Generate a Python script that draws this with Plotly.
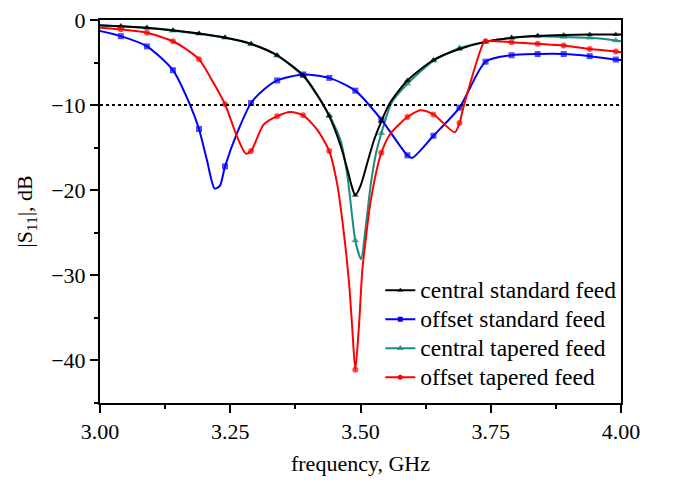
import plotly.graph_objects as go

# ---------------- data ----------------
marker_freqs = [3.04, 3.09, 3.14, 3.19, 3.24, 3.29, 3.34, 3.39, 3.44, 3.49,
                3.54, 3.59, 3.64, 3.69, 3.74, 3.79, 3.84, 3.89, 3.94, 3.99]

freq_central_std = [3.00, 3.04, 3.09, 3.14, 3.19, 3.24, 3.29, 3.34, 3.39, 3.415,
                    3.44, 3.462, 3.475, 3.484, 3.49, 3.500, 3.513, 3.526, 3.54, 3.557,
                    3.59, 3.64, 3.69, 3.74, 3.79, 3.84, 3.89, 3.94, 3.99, 4.00]
s11_central_std = [-0.65, -0.73, -0.92, -1.2, -1.59, -2.06, -2.8, -4.14, -6.5, -8.6,
                   -11.3, -14.8, -17.6, -19.7, -20.6, -19.5, -16.8, -14.1, -11.9, -9.7,
                   -7.1, -4.7, -3.4, -2.57, -2.1, -1.86, -1.75, -1.7, -1.7, -1.7]

freq_offset_std = [3.00, 3.04, 3.09, 3.14, 3.173, 3.19, 3.205, 3.220, 3.230, 3.24,
                   3.263, 3.29, 3.314, 3.34, 3.39, 3.44, 3.49, 3.54, 3.59, 3.599,
                   3.64, 3.69, 3.74, 3.79, 3.84, 3.89, 3.94, 3.99, 4.00]
s11_offset_std = [-1.3, -1.9, -3.1, -5.9, -10.0, -12.8, -16.4, -19.8, -19.5, -17.2,
                  -13.3, -9.75, -8.2, -7.1, -6.4, -6.8, -8.3, -11.7, -15.9, -16.2,
                  -13.6, -10.3, -4.9, -4.14, -4.0, -4.0, -4.25, -4.65, -4.7]

freq_central_tap = [3.00, 3.04, 3.09, 3.14, 3.19, 3.24, 3.29, 3.34, 3.39, 3.415,
                    3.44, 3.462, 3.475, 3.484, 3.49, 3.501, 3.510, 3.520, 3.530,
                    3.54, 3.560, 3.59, 3.64, 3.69, 3.74, 3.79, 3.84, 3.89, 3.94,
                    3.99, 4.00]
s11_central_tap = [-0.6, -0.75, -0.95, -1.25, -1.62, -2.1, -2.85, -4.2, -6.6, -8.7,
                   -11.2, -14.2, -18.4, -23.1, -25.9, -28.1, -24.3, -19.2, -15.6,
                   -13.3, -9.7, -7.5, -4.8, -3.3, -2.55, -2.1, -1.9, -2.0, -2.1,
                   -2.4, -2.5]

freq_offset_tap = [3.00, 3.04, 3.09, 3.14, 3.167, 3.19, 3.218, 3.24, 3.263, 3.280,
                   3.29, 3.314, 3.34, 3.365, 3.39, 3.417, 3.44, 3.455, 3.468, 3.478,
                   3.484, 3.49, 3.497, 3.5035, 3.510, 3.520, 3.54, 3.558, 3.577, 3.59,
                   3.615, 3.64, 3.681, 3.69, 3.699, 3.736, 3.74, 3.79, 3.84, 3.89,
                   3.94, 3.99, 4.00]
s11_offset_tap = [-0.9, -1.1, -1.5, -2.5, -3.5, -4.6, -7.4, -9.9, -13.7, -15.7,
                  -15.4, -12.3, -11.3, -10.8, -11.2, -12.9, -15.4, -19.2, -25.0, -30.9,
                  -36.0, -41.1, -36.0, -29.4, -25.8, -21.1, -15.6, -13.3, -12.1, -11.4,
                  -10.6, -11.1, -13.2, -12.1, -9.9, -2.7, -2.5, -2.6, -2.8, -3.0,
                  -3.4, -3.7, -3.8]

series_names = ["central standard feed", "offset standard feed",
                "central tapered feed", "offset tapered feed"]
threshold_db = -10

x_ticks = [3.00, 3.25, 3.50, 3.75, 4.00]
y_ticks = [0, -10, -20, -30, -40]

# ---------------- styling ----------------
FONT = "Liberation Serif, Times New Roman, serif"
styles = {
    "central standard feed": dict(color="#000000", symbol="triangle-up", size=6),
    "offset standard feed": dict(color="#0000FF", symbol="square", size=6),
    "central tapered feed": dict(color="#1A8C82", symbol="triangle-up", size=7),
    "offset tapered feed": dict(color="#FF0000", symbol="circle", size=6),
}
data = {
    "central standard feed": (freq_central_std, s11_central_std),
    "offset standard feed": (freq_offset_std, s11_offset_std),
    "central tapered feed": (freq_central_tap, s11_central_tap),
    "offset tapered feed": (freq_offset_tap, s11_offset_tap),
}
marker_set = {round(f, 3) for f in marker_freqs}

fig = go.Figure()

draw_order = ["central tapered feed", "offset standard feed",
              "central standard feed", "offset tapered feed"]
for name in draw_order:
    fx, fy = data[name]
    st = styles[name]
    sizes = [st["size"] if round(f, 3) in marker_set else 0 for f in fx]
    fig.add_trace(go.Scatter(
        x=fx, y=fy, mode="lines+markers", name=name, showlegend=False,
        line=dict(color=st["color"], width=2, shape="spline", smoothing=0.7),
        marker=dict(color=st["color"], symbol=st["symbol"], size=sizes,
                    line=dict(width=0)),
    ))

# legend entries (in reference order); larger text inside tighter rows
for name in series_names:
    st = styles[name]
    fig.add_trace(go.Scatter(
        x=[None], y=[None], mode="lines+markers",
        name=f'<span style="font-size:23.5px">{name}</span>',
        line=dict(color=st["color"], width=2),
        marker=dict(color=st["color"], symbol=st["symbol"], size=st["size"] - 1),
    ))

fig.add_hline(y=threshold_db, line=dict(color="black", width=2, dash="dot"))

axis_common = dict(
    showline=True, linecolor="black", linewidth=2, mirror=True,
    ticks="outside", ticklen=8, tickwidth=2, tickcolor="black",
    showgrid=False, zeroline=False, automargin=False,
    tickfont=dict(family=FONT, size=22, color="black"),
)
fig.update_xaxes(
    range=[3.0, 4.0], tickvals=x_ticks, tickformat=".2f",
    minor=dict(ticks="outside", ticklen=4, tickwidth=2, tickcolor="black", dtick=0.125,
               showgrid=False),
    title=dict(text="frequency, GHz", font=dict(family=FONT, size=22, color="black"),
               standoff=12),
    **axis_common,
)
fig.update_yaxes(
    range=[-45, 0], tickvals=y_ticks,
    minor=dict(ticks="outside", ticklen=4, tickwidth=2, tickcolor="black", dtick=5,
               showgrid=False),
    title=dict(text="|S<sub>11</sub>|, dB", font=dict(family=FONT, size=22, color="black"),
               standoff=12),
    **axis_common,
)

fig.update_layout(
    width=677, height=481,
    margin=dict(l=100, r=56, t=20, b=78),
    paper_bgcolor="white", plot_bgcolor="white",
    font=dict(family=FONT, color="black"),
    legend=dict(x=0.538, y=0.345, xanchor="left", yanchor="top",
                font=dict(family=FONT, size=20, color="black"),
                bgcolor="rgba(0,0,0,0)", borderwidth=0),
)

fig.write_html("out.html")
